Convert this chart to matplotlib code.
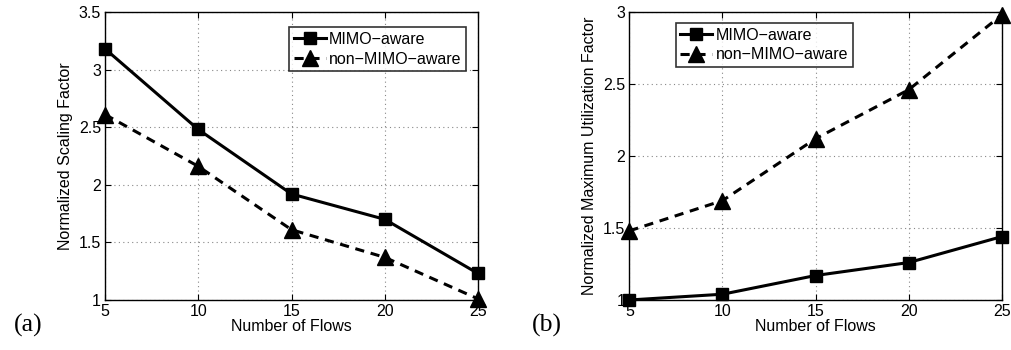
import matplotlib
matplotlib.use("Agg")
import matplotlib.pyplot as plt

flows = [5, 10, 15, 20, 25]

# (a) normalized scaling factor
scaling_mimo = [3.18, 2.48, 1.92, 1.70, 1.23]
scaling_non_mimo = [2.61, 2.16, 1.61, 1.37, 1.01]

# (b) normalized maximum utilization factor
util_mimo = [1.00, 1.04, 1.17, 1.26, 1.44]
util_non_mimo = [1.48, 1.69, 2.12, 2.46, 2.98]

series_labels = ["MIMO\u2212aware", "non\u2212MIMO\u2212aware"]

plt.rcParams["font.family"] = ["Liberation Sans", "DejaVu Sans"]

fig = plt.figure(figsize=(10.11, 3.5), dpi=100)
ax_a = fig.add_axes([0.1039, 0.1429, 0.3689, 0.8229])
ax_b = fig.add_axes([0.6225, 0.1429, 0.3684, 0.8229])

FS = 11.5


def draw_panel(ax, y1, y2, ylim, yticks, ylabel, legend_anchor):
    ax.plot(flows, y1, color="black", lw=2.2, marker="s", ms=8,
            label=series_labels[0], clip_on=False, zorder=3)
    ax.plot(flows, y2, color="black", lw=2.2, ls=(0, (3, 2.2)), marker="^",
            ms=11, label=series_labels[1], clip_on=False, zorder=3)
    ax.set_xlim(5, 25)
    ax.set_ylim(*ylim)
    ax.set_xticks(flows)
    ax.set_yticks(yticks)
    ax.set_yticklabels([f"{t:g}" for t in yticks])
    ax.grid(True, color="#888888", ls=(0, (1, 3)), lw=0.8)
    ax.tick_params(direction="in", length=4, labelsize=FS, top=True,
                   right=True, pad=3)
    for s in ax.spines.values():
        s.set_linewidth(1.0)
    ax.set_xlabel("Number of Flows", fontsize=FS, labelpad=0)
    ax.set_ylabel(ylabel, fontsize=FS, labelpad=4)
    leg = ax.legend(loc="upper left", bbox_to_anchor=legend_anchor,
                    fontsize=FS, frameon=True, fancybox=False,
                    edgecolor="black", handlelength=2.0, handletextpad=0.2,
                    borderpad=0.3, labelspacing=0.3, borderaxespad=0)
    leg.get_frame().set_linewidth(1.2)


draw_panel(ax_a, scaling_mimo, scaling_non_mimo, (1, 3.5),
           [1, 1.5, 2, 2.5, 3, 3.5], "Normalized Scaling Factor",
           (0.493, 0.948))
draw_panel(ax_b, util_mimo, util_non_mimo, (1, 3),
           [1, 1.5, 2, 2.5, 3], "Normalized Maximum Utilization Factor",
           (0.124, 0.962))

fig.text(0.014, 0.07, "(a)", fontsize=18.5, family="Liberation Serif",
         va="center")
fig.text(0.526, 0.07, "(b)", fontsize=18.5, family="Liberation Serif",
         va="center")

fig.savefig("out.png", dpi=100)
